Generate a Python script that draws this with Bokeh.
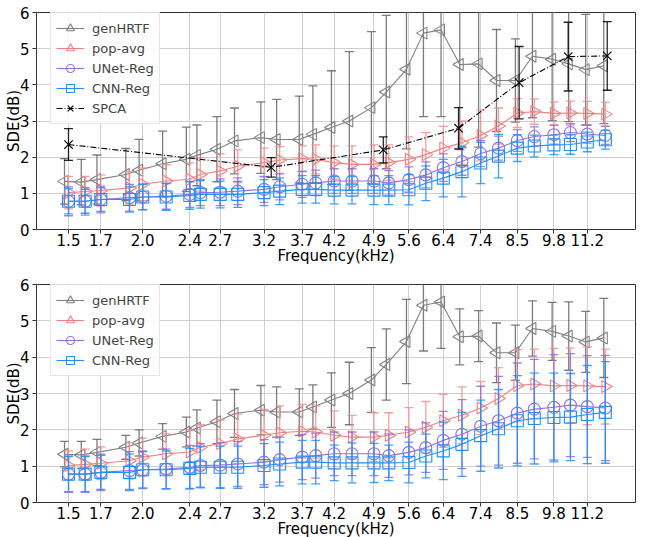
import math
from bokeh.plotting import figure
from bokeh.layouts import column
from bokeh.models import ColumnDataSource, FixedTicker, Range1d, Legend, LegendItem
from bokeh.embed import file_html
from bokeh.resources import INLINE

# ---------------- data ----------------
freq = [1.50, 1.60, 1.70, 1.90, 2.00, 2.19, 2.40, 2.50, 2.70, 2.89, 3.20, 3.40, 3.71, 3.91, 4.20,
        4.50, 4.90, 5.19, 5.61, 5.99, 6.41, 6.89, 7.41, 7.94, 8.54, 9.12, 9.84, 10.49, 11.20, 12.01]
freq_gen = [1.477, 1.576, 1.675, 1.873, 1.972, 2.160, 2.368, 2.467, 2.666, 2.854, 3.161, 3.360,
            3.668, 3.867, 4.155, 4.453, 4.851, 5.139, 5.557, 5.935, 6.354, 6.832, 7.350, 7.878,
            8.476, 9.055, 9.773, 10.422, 11.131, 11.940]
tick_labels = ["1.5", "1.7", "2.0", "2.4", "2.7", "3.2", "3.7", "4.2", "4.9", "5.6", "6.4",
               "7.4", "8.5", "9.8", "11.2"]
y_ticks = [0, 1, 2, 3, 4, 5, 6]

gen_mean = [1.33, 1.31, 1.38, 1.52, 1.64, 1.82, 1.94, 2.05, 2.22, 2.45, 2.54, 2.49, 2.49, 2.63, 2.82,
            3.00, 3.37, 3.80, 4.43, 5.43, 5.52, 4.56, 4.58, 4.12, 4.12, 4.79, 4.71, 4.58, 4.42, 4.53]
pop_mean = [1.02, 1.05, 1.08, 1.15, 1.25, 1.34, 1.39, 1.52, 1.62, 1.75, 1.85, 1.92, 1.96, 1.94, 1.85,
            1.80, 1.80, 1.85, 1.94, 2.07, 2.25, 2.40, 2.60, 2.86, 3.22, 3.26, 3.21, 3.22, 3.21, 3.19]
unet_mean = [0.78, 0.78, 0.83, 0.88, 0.90, 0.92, 0.97, 1.02, 1.03, 1.06, 1.11, 1.18, 1.25, 1.29, 1.34,
             1.34, 1.34, 1.29, 1.38, 1.51, 1.71, 1.88, 2.10, 2.25, 2.46, 2.57, 2.62, 2.68, 2.64, 2.60]
cnn_mean = [0.78, 0.78, 0.83, 0.83, 0.90, 0.90, 0.94, 0.97, 0.97, 0.97, 1.02, 1.06, 1.11, 1.11, 1.09,
            1.09, 1.09, 1.09, 1.10, 1.28, 1.42, 1.60, 1.84, 2.03, 2.25, 2.31, 2.34, 2.35, 2.42, 2.48]

# top panel standard deviations
gen_std_top = [0.63, 0.63, 0.68, 0.72, 0.85, 0.90, 0.89, 0.84, 0.90, 0.91, 0.99, 1.11, 1.20, 1.34, 1.57,
               1.92, 2.10, 2.12, 2.20, 2.31, 2.40, 2.35, 2.30, 1.41, 1.15, 1.70, 1.70, 1.60, 1.53, 1.60]
pop_std_top = [0.45, 0.42, 0.43, 0.45, 0.45, 0.45, 0.45, 0.46, 0.48, 0.45, 0.40, 0.37, 0.36, 0.40, 0.46,
               0.51, 0.54, 0.49, 0.62, 0.61, 0.60, 0.60, 0.70, 0.50, 0.40, 0.35, 0.32, 0.33, 0.33, 0.33]
unet_std_top = [0.40, 0.38, 0.37, 0.37, 0.36, 0.36, 0.36, 0.36, 0.37, 0.37, 0.36, 0.36, 0.36, 0.35, 0.34,
                0.34, 0.34, 0.34, 0.35, 0.36, 0.38, 0.38, 0.36, 0.33, 0.30, 0.27, 0.26, 0.25, 0.25, 0.25]
cnn_std_top = [0.35, 0.33, 0.33, 0.35, 0.35, 0.37, 0.38, 0.38, 0.37, 0.36, 0.36, 0.37, 0.38, 0.38, 0.38,
               0.38, 0.40, 0.40, 0.42, 0.48, 0.52, 0.70, 0.57, 0.60, 0.37, 0.30, 0.27, 0.27, 0.27, 0.26]

# bottom panel standard deviations
gen_std_bot = [0.35, 0.37, 0.36, 0.33, 0.36, 0.35, 0.41, 0.50, 0.60, 0.66, 0.68, 0.69, 0.64, 0.61, 0.75,
               0.86, 0.89, 0.98, 1.16, 1.26, 1.28, 0.77, 0.70, 0.82, 0.76, 0.76, 0.80, 0.94, 0.84, 1.09]
pop_std_bot = [0.40, 0.42, 0.45, 0.50, 0.52, 0.55, 0.60, 0.62, 0.65, 0.68, 0.71, 0.74, 0.74, 0.72, 0.67,
               0.60, 0.67, 0.62, 0.67, 0.71, 0.73, 0.78, 0.73, 0.85, 0.99, 0.96, 1.03, 1.03, 1.07, 1.03]
unet_std_bot = [0.50, 0.50, 0.50, 0.52, 0.52, 0.55, 0.60, 0.60, 0.62, 0.62, 0.62, 0.62, 0.62, 0.62, 0.60,
                0.60, 0.60, 0.60, 0.62, 0.68, 0.80, 0.95, 1.10, 1.22, 1.38, 1.37, 1.45, 1.42, 1.40, 1.45]
cnn_std_bot = [0.48, 0.48, 0.47, 0.50, 0.50, 0.52, 0.55, 0.57, 0.58, 0.58, 0.60, 0.60, 0.60, 0.60, 0.49,
               0.55, 0.54, 0.49, 0.56, 0.60, 0.79, 0.88, 0.98, 1.08, 1.24, 1.25, 1.22, 1.20, 1.35, 1.40]

spca_freq = [1.50, 3.29, 5.08, 6.80, 8.60, 10.40, 12.10]
spca_mean = [2.35, 1.72, 2.20, 2.80, 4.06, 4.78, 4.80]
spca_std = [0.44, 0.27, 0.36, 0.57, 1.00, 0.95, 0.95]

# ---------------- styles ----------------
FONT = "DejaVu Sans"
STYLES = {
    "genHRTF": dict(color="#808080", ecolor="#666666", marker="triangle", angle=math.pi / 2, dash="solid"),
    "pop-avg": dict(color="#F08080", ecolor="#F28E8E", marker="triangle", angle=-math.pi / 2, dash="solid"),
    "UNet-Reg": dict(color="#9370DB", ecolor="#9370DB", marker="circle", angle=0.0, dash="solid"),
    "CNN-Reg": dict(color="#1E90FF", ecolor="#1E90FF", marker="square", angle=0.0, dash="solid"),
    "SPCA": dict(color="#000000", ecolor="#000000", marker="x", angle=0.0, dash="6 2 1 2"),
}

ROW_H = 20
PAD = 5


def add_series(p, name, xs, mean, std):
    st = STYLES[name]
    src = ColumnDataSource(dict(
        x=xs, y=mean,
        hi=[m + s for m, s in zip(mean, std)],
        lo=[m - s for m, s in zip(mean, std)],
    ))
    p.segment(x0="x", y0="lo", x1="x", y1="hi", source=src, line_color=st["ecolor"],
              line_width=1.3, line_alpha=0.85)
    for col in ("hi", "lo"):
        p.scatter(x="x", y=col, source=src, marker="dash", size=9, line_color=st["ecolor"],
                  line_width=1.3, line_alpha=0.85)
    ln = p.line(x="x", y="y", source=src, line_color=st["color"], line_width=1.1,
                line_dash=st["dash"])
    mk = p.scatter(x="x", y="y", source=src, marker=st["marker"], size=12, angle=st["angle"],
                   fill_color=None, line_color=st["color"], line_width=1.1)
    return [ln, mk]


def make_fig(series, border_top, frame_h):
    p = figure(frame_width=599, frame_height=frame_h, x_axis_type="log",
               x_range=Range1d(1.325, 13.5), y_range=Range1d(0, 6),
               output_backend="svg", toolbar_location=None,
               min_border_left=36, min_border_right=3, min_border_top=border_top,
               min_border_bottom=0)
    p.background_fill_color = "white"
    p.outline_line_color = "#333333"
    p.outline_line_width = 1
    p.xgrid.grid_line_color = "#cfcfcf"
    p.ygrid.grid_line_color = "#cfcfcf"
    p.xgrid.grid_line_width = 1
    p.ygrid.grid_line_width = 1

    tick_freqs = freq[::2]
    p.xaxis.ticker = FixedTicker(ticks=tick_freqs, minor_ticks=[])
    p.xaxis.major_label_overrides = {f: lab for f, lab in zip(tick_freqs, tick_labels)}
    p.yaxis.ticker = FixedTicker(ticks=y_ticks, minor_ticks=[])
    for ax in (p.xaxis[0], p.yaxis[0]):
        ax.axis_line_color = None
        ax.major_tick_line_color = "#333333"
        ax.major_tick_in = 0
        ax.major_tick_out = 4
        ax.minor_tick_line_color = None
        ax.major_label_text_font = FONT
        ax.major_label_text_font_size = "15px"
        ax.major_label_text_color = "black"
        ax.axis_label_text_font = FONT
        ax.axis_label_text_font_size = "15px"
        ax.axis_label_text_font_style = "normal"
        ax.axis_label_text_color = "black"
    p.xaxis.axis_label = "Frequency(kHz)"
    p.yaxis.axis_label = "SDE(dB)"
    p.xaxis.major_label_standoff = 0
    p.xaxis.axis_label_standoff = -2
    p.yaxis.major_label_standoff = 3
    p.yaxis.axis_label_standoff = -6

    items = []
    for name, xs, mean, std in series:
        rs = add_series(p, name, xs, mean, std)
        items.append(LegendItem(label=name, renderers=rs))
    leg_h = len(items) * ROW_H + 2 * PAD
    leg = Legend(items=items, location=(14, frame_h - 2 - leg_h))
    leg.label_text_font = FONT
    leg.label_text_font_size = "13px"
    leg.glyph_width = 28
    leg.glyph_height = ROW_H
    leg.label_height = ROW_H
    leg.spacing = 0
    leg.padding = PAD
    leg.margin = 0
    leg.label_standoff = 8
    leg.border_line_color = "#cccccc"
    leg.background_fill_alpha = 0.85
    p.add_layout(leg)
    return p


top_series = [
    ("genHRTF", freq_gen, gen_mean, gen_std_top),
    ("pop-avg", freq, pop_mean, pop_std_top),
    ("UNet-Reg", freq, unet_mean, unet_std_top),
    ("CNN-Reg", freq, cnn_mean, cnn_std_top),
    ("SPCA", spca_freq, spca_mean, spca_std),
]
bot_series = [
    ("genHRTF", freq_gen, gen_mean, gen_std_bot),
    ("pop-avg", freq, pop_mean, pop_std_bot),
    ("UNet-Reg", freq, unet_mean, unet_std_bot),
    ("CNN-Reg", freq, cnn_mean, cnn_std_bot),
]

p1 = make_fig(top_series, 12, 217)
p2 = make_fig(bot_series, 17, 218)
layout = column(p1, p2, spacing=0)

open("out.html", "w").write(file_html(layout, INLINE))
